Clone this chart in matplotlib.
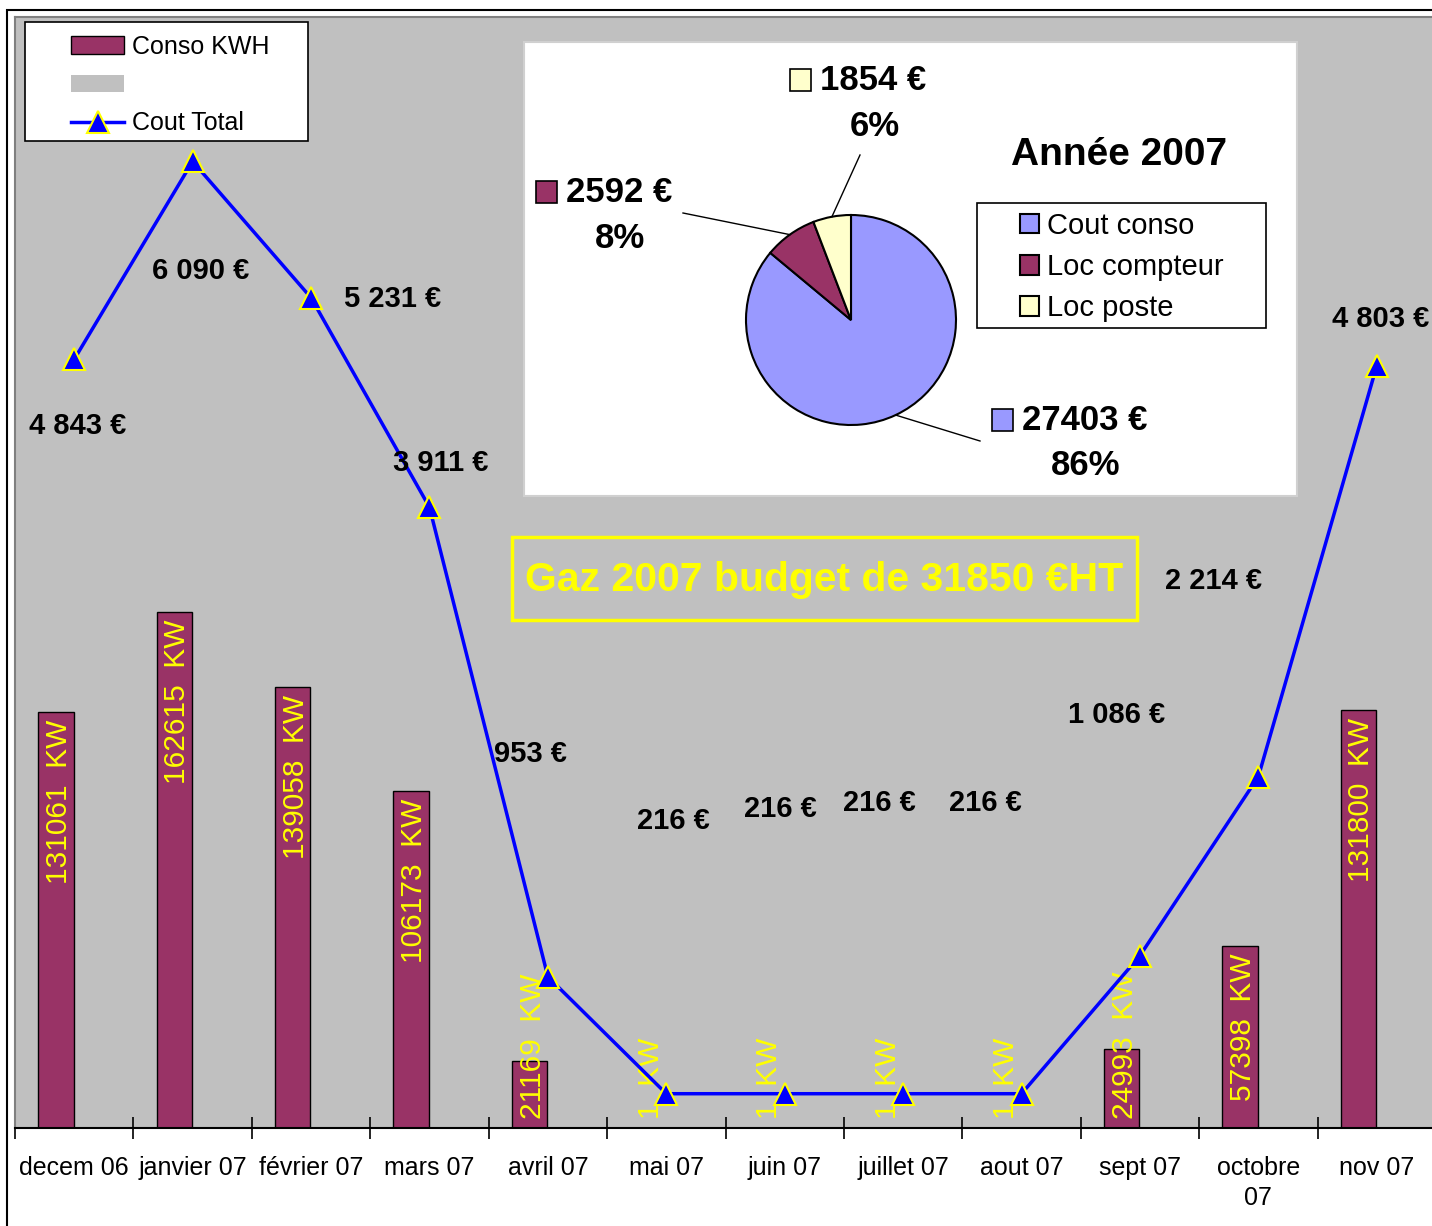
import numpy as np
import matplotlib.pyplot as plt
from matplotlib.patches import Rectangle, Patch
from matplotlib.lines import Line2D

plt.rcParams['font.family'] = ['Liberation Sans', 'DejaVu Sans']

# data
months = ["decem 06", "janvier 07", "février 07", "mars 07", "avril 07", "mai 07",
          "juin 07", "juillet 07", "aout 07", "sept 07", "octobre\n07", "nov 07"]
conso_kwh = [131061, 162615, 139058, 106173, 21169, 1, 1, 1, 1, 24993, 57398, 131800]
cout_total = [4843, 6090, 5231, 3911, 953, 216, 216, 216, 216, 1086, 2214, 4803]

pie_labels = ["Cout conso", "Loc compteur", "Loc poste"]
pie_values = [27403, 2592, 1854]

# label offsets (pixels) for the cost labels, as placed in the original
cost_offsets = [(3, -67), (8, -110), (82, -1), (11, 44), (-17, 223), (7, 273),
                (-4, 285), (-24, 291), (-36, 291), (-23, 241), (-45, 196), (4, 47)]

W, H = 1432, 1226
def fx(x): return x / W
def fy(y): return 1 - y / H

MAROON = '#993366'
GRAY = '#c0c0c0'

fig = plt.figure(figsize=(W / 100, H / 100), dpi=100)

ax = fig.add_axes([fx(15), fy(1128), (1436 - 15) / W, (1128 - 17) / H])
ax.set_facecolor(GRAY)
x = np.arange(len(months))
ax.bar(x - 0.155, conso_kwh, width=0.3, color=MAROON, edgecolor='black', linewidth=1)
ax.set_xlim(-0.5, 11.5)
ax.set_ylim(0, 350000)
ax.set_yticks([])
ax.set_xticks(np.arange(-0.5, 12, 1))
ax.set_xticklabels([])
ax.set_xticks(x, minor=True)
ax.set_xticklabels(months, minor=True, fontsize=18, linespacing=1.35)
ax.tick_params(axis='x', which='major', direction='inout', length=16, width=1.2)
ax.tick_params(axis='x', which='minor', length=0, pad=20)
for s in ['left', 'top', 'right']:
    ax.spines[s].set_color('#808080')
    ax.spines[s].set_linewidth(1.5)
ax.spines['bottom'].set_linewidth(1.5)

for xi, v in zip(x, conso_kwh):
    txt = f"{v}  KW"
    if v >= 50000:
        ax.annotate(txt, (xi - 0.155, v), xytext=(3, -8), textcoords='offset pixels',
                    rotation=90, ha='center', va='top', color='yellow', fontsize=21.5)
    else:
        ax.annotate(txt, (xi - 0.155, 0), xytext=(3, 9), textcoords='offset pixels',
                    rotation=90, ha='center', va='bottom', color='yellow', fontsize=21.5)

ax2 = ax.twinx()
ax2.plot(x, cout_total, color='blue', lw=2.5, marker='^', ms=16,
         mfc='blue', mec='yellow', mew=1.5)
ax2.set_ylim(0, 7000)
ax2.set_yticks([])
for s in ax2.spines.values():
    s.set_visible(False)

for xi, v, (dx, dy) in zip(x, cout_total, cost_offsets):
    lab = f"{v:,}".replace(",", " ") + " €"
    ax2.annotate(lab, (xi, v), xytext=(dx, dy), textcoords='offset pixels',
                 ha='center', va='center', fontsize=21, fontweight='bold')

# main legend
fig.add_artist(Rectangle((fx(25), fy(141)), (308 - 25) / W, (141 - 22) / H,
                         transform=fig.transFigure, facecolor='white',
                         edgecolor='black', lw=1.2, zorder=2))
handles = [Patch(facecolor=MAROON, edgecolor='black'),
           Patch(facecolor=GRAY, edgecolor='none'),
           Line2D([], [], color='blue', lw=2.5, marker='^', ms=16, mfc='blue', mec='yellow', mew=1.5)]
leg = fig.legend(handles, ["Conso KWH", "", "Cout Total"], loc='center left',
                 bbox_to_anchor=(fx(71), fy(85)), bbox_transform=fig.transFigure,
                 frameon=False, fontsize=18, handlelength=2.12, handletextpad=0.32,
                 labelspacing=0.58, borderpad=0, borderaxespad=0)
leg.set_zorder(3)

# pie inset
fig.add_artist(Rectangle((fx(524), fy(496)), (1297 - 524) / W, (496 - 42) / H,
                         transform=fig.transFigure, facecolor='white',
                         edgecolor='#d0d0d0', lw=1.5, zorder=2))
pax = fig.add_axes([fx(746), fy(425), 210 / W, 210 / H], zorder=3)
pie_colors = ['#9999ff', MAROON, '#ffffcc']
wedges, _ = pax.pie(pie_values, colors=pie_colors, startangle=90, counterclock=False,
                    wedgeprops=dict(edgecolor='black', linewidth=1.5))
pax.set_xlim(-1, 1)
pax.set_ylim(-1, 1)

leader_ends = [(980, 441), (683, 213), (860, 155)]
for w, (ex, ey) in zip(wedges, leader_ends):
    ang = np.deg2rad((w.theta1 + w.theta2) / 2)
    pax.plot([np.cos(ang), (ex - 851) / 105], [np.sin(ang), (320 - ey) / 105],
             color='black', lw=1, clip_on=False)

total = sum(pie_values)
# (square left, center y of value line, pct center x, pct center y)
pie_label_pos = [(992, 421, 1086, 465), (536, 193, 620, 239), (790, 81, 875, 127)]
for v, c, (sx, sy, px, py) in zip(pie_values, pie_colors, pie_label_pos):
    fig.add_artist(Rectangle((fx(sx), fy(sy + 10)), 21 / W, 22 / H, transform=fig.transFigure,
                             facecolor=c, edgecolor='black', lw=1.2, zorder=4))
    fig.text(fx(sx + 30), fy(sy), f"{v} €", fontsize=25, fontweight='bold',
             ha='left', va='center', zorder=4)
    fig.text(fx(px), fy(py), f"{round(100 * v / total)}%", fontsize=25, fontweight='bold',
             ha='center', va='center', zorder=4)

fig.text(fx(1119), fy(155), "Année 2007", fontsize=28, fontweight='bold',
         ha='center', va='center', zorder=4)

fig.add_artist(Rectangle((fx(977), fy(328)), (1266 - 977) / W, (328 - 203) / H,
                         transform=fig.transFigure, facecolor='white',
                         edgecolor='black', lw=1.2, zorder=4))
pleg = fig.legend(wedges, pie_labels, loc='center left',
                  bbox_to_anchor=(fx(1020), fy(267)), bbox_transform=fig.transFigure,
                  frameon=False, fontsize=21, handlelength=0.66, handleheight=0.66,
                  handletextpad=0.25, labelspacing=0.46, borderpad=0, borderaxespad=0)
pleg.set_zorder(5)

# title box
fig.add_artist(Rectangle((fx(512), fy(620)), (1137 - 512) / W, (620 - 537) / H,
                         transform=fig.transFigure, fill=False,
                         edgecolor='yellow', lw=2.5, zorder=4))
fig.text(fx(824), fy(580), "Gaz 2007 budget de 31850 €HT", color='yellow',
         fontsize=29.5, fontweight='bold', ha='center', va='center', zorder=4)

# outer chart frame
fig.add_artist(Rectangle((fx(7), fy(1240)), (1450 - 7) / W, (1240 - 10) / H,
                         transform=fig.transFigure, fill=False,
                         edgecolor='black', lw=1.5, zorder=5))

fig.savefig("out.png", dpi=100)
